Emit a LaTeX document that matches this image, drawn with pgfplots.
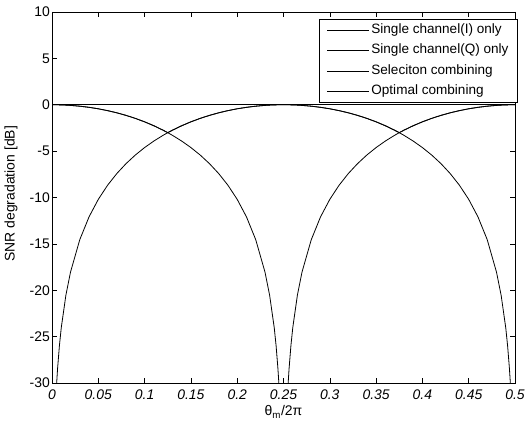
\documentclass[border=0pt]{standalone}
\usepackage{pgfplots}
\pgfplotsset{compat=1.18}
\usepackage{pgfplotstable}
\usepackage{fontspec}
\setmainfont{Liberation Sans}

% x, single channel I, single channel Q, selection combining (max of I and Q), in dB
\pgfplotstableread{
x      I         Q         S
0.000  0.0000    nan       0.0000
0.004  -0.0027   -32.000   -0.0027
0.005  -0.0043   -30.058   -0.0043
0.006  -0.0062   -28.476   -0.0062
0.008  -0.0110   -25.978   -0.0110
0.010  -0.0172   -24.042   -0.0172
0.015  -0.0386   -20.527   -0.0386
0.020  -0.0688   -18.0386  -0.0688
0.030  -0.1552   -14.5455  -0.1552
0.040  -0.2772   -12.0868  -0.2772
0.050  -0.4359   -10.2000  -0.4359
0.060  -0.6325   -8.6802   -0.6325
0.070  -0.8687   -7.4163   -0.8687
0.080  -1.1469   -6.3435   -1.1469
0.090  -1.4698   -5.4195   -1.4698
0.100  -1.8408   -4.6156   -1.8408
0.110  -2.2644   -3.9114   -2.2644
0.120  -2.7458   -3.2919   -2.7458
0.125  -3.0103   -3.0103   -3.0103
0.130  -3.2919   -2.7458   -2.7458
0.140  -3.9114   -2.2644   -2.2644
0.150  -4.6156   -1.8408   -1.8408
0.160  -5.4195   -1.4698   -1.4698
0.170  -6.3435   -1.1469   -1.1469
0.180  -7.4163   -0.8687   -0.8687
0.190  -8.6802   -0.6325   -0.6325
0.200  -10.2000  -0.4359   -0.4359
0.210  -12.0868  -0.2772   -0.2772
0.220  -14.5455  -0.1552   -0.1552
0.230  -18.0386  -0.0688   -0.0688
0.235  -20.527   -0.0386   -0.0386
0.240  -24.042   -0.0172   -0.0172
0.242  -25.978   -0.0110   -0.0110
0.244  -28.476   -0.0062   -0.0062
0.245  -30.058   -0.0043   -0.0043
0.246  -32.000   -0.0027   -0.0027
0.250  nan       0.0000    0.0000
0.254  -32.000   -0.0027   -0.0027
0.255  -30.058   -0.0043   -0.0043
0.256  -28.476   -0.0062   -0.0062
0.258  -25.978   -0.0110   -0.0110
0.260  -24.042   -0.0172   -0.0172
0.265  -20.527   -0.0386   -0.0386
0.270  -18.0386  -0.0688   -0.0688
0.280  -14.5455  -0.1552   -0.1552
0.290  -12.0868  -0.2772   -0.2772
0.300  -10.2000  -0.4359   -0.4359
0.310  -8.6802   -0.6325   -0.6325
0.320  -7.4163   -0.8687   -0.8687
0.330  -6.3435   -1.1469   -1.1469
0.340  -5.4195   -1.4698   -1.4698
0.350  -4.6156   -1.8408   -1.8408
0.360  -3.9114   -2.2644   -2.2644
0.370  -3.2919   -2.7458   -2.7458
0.375  -3.0103   -3.0103   -3.0103
0.380  -2.7458   -3.2919   -2.7458
0.390  -2.2644   -3.9114   -2.2644
0.400  -1.8408   -4.6156   -1.8408
0.410  -1.4698   -5.4195   -1.4698
0.420  -1.1469   -6.3435   -1.1469
0.430  -0.8687   -7.4163   -0.8687
0.440  -0.6325   -8.6802   -0.6325
0.450  -0.4359   -10.2000  -0.4359
0.460  -0.2772   -12.0868  -0.2772
0.470  -0.1552   -14.5455  -0.1552
0.480  -0.0688   -18.0386  -0.0688
0.485  -0.0386   -20.527   -0.0386
0.490  -0.0172   -24.042   -0.0172
0.492  -0.0110   -25.978   -0.0110
0.494  -0.0062   -28.476   -0.0062
0.495  -0.0043   -30.058   -0.0043
0.496  -0.0027   -32.000   -0.0027
0.500  0.0000    nan       0.0000
}\snrdata

\begin{document}
\begin{tikzpicture}
  \begin{axis}[
    scale only axis,
    width=463bp,
    height=371bp,
    xmin=0, xmax=0.5,
    ymin=-30, ymax=10,
    xtick={0,0.05,...,0.5},
    ytick={-30,-25,...,10},
    scaled x ticks=false,
    /pgf/number format/assume math mode=true,
    xticklabel style={font=\fontsize{14}{16}\selectfont\itshape, inner sep=0bp, yshift=-7bp, /pgf/number format/fixed, /pgf/number format/precision=2},
    yticklabel style={font=\fontsize{14}{16}\selectfont, inner sep=0bp, xshift=-2bp},
    tick align=inside,
    major tick length=5bp,
    tick style={black, line width=0.6bp},
    axis line style={line width=0.8bp},
    unbounded coords=jump,
    xlabel={θ\textsubscript{m}/2π},
    ylabel={SNR degradation [dB]},
    every axis y label/.style={at={(axis description cs:-0.0886,0.51)}, rotate=90, anchor=center, font=\fontsize{14}{16}\selectfont},
    every axis x label/.style={at={(axis description cs:0.5,-0.078)}, anchor=center, font=\fontsize{14}{16}\selectfont},
    legend style={
      at={(axis description cs:1.006,0.981)}, anchor=north east,
      draw=black, line width=0.6bp, fill=white,
      font=\fontsize{13.6}{16}\selectfont,
      nodes={inner sep=2bp, text height=10bp, text depth=3.5bp},
      row sep=3bp, inner xsep=7bp, inner ysep=2bp,
    },
    legend cell align=left,
    legend image code/.code={\draw[#1] (0bp,0bp) -- (42bp,0bp);},
  ]
    \addplot[black, line width=0.8bp] table[x=x, y=I] {\snrdata};
    \addplot[black, line width=0.8bp] table[x=x, y=Q] {\snrdata};
    \addplot[black, line width=0.8bp] table[x=x, y=S] {\snrdata};
    \addplot[black, line width=0.8bp] coordinates {(0,0) (0.5,0)};
    \legend{Single channel(I) only, Single channel(Q) only, Seleciton combining, Optimal combining}
  \end{axis}
  \path ([shift={(-52bp,-45bp)}]current axis.south west) rectangle ([shift={(11bp,12bp)}]current axis.north east);
\end{tikzpicture}
\end{document}
